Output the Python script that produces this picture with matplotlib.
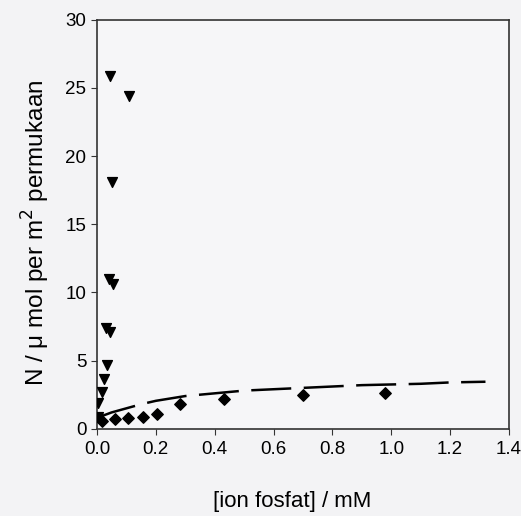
import numpy as np
import matplotlib.pyplot as plt

# segitiga (turun)
tri_x = [0.044, 0.109, 0.051, 0.040, 0.055, 0.030, 0.044, 0.034, 0.024, 0.017, 0.003, 0.003]
tri_y = [25.9, 24.4, 18.1, 11.0, 10.6, 7.4, 7.1, 4.7, 3.65, 2.7, 1.9, 0.9]

# titik (belah ketupat)
dia_x = [0.017, 0.06, 0.107, 0.157, 0.205, 0.283, 0.433, 0.70, 0.98]
dia_y = [0.6, 0.73, 0.8, 0.9, 1.1, 1.8, 2.2, 2.5, 2.6]

# kurva fit (garis putus-putus)
fit_x = [0, 0.05, 0.1, 0.15, 0.2, 0.3, 0.4, 0.5, 0.6, 0.7, 0.8, 0.9, 1.0, 1.1, 1.2, 1.32]
fit_y = [0.8, 1.2, 1.5, 1.8, 2.05, 2.4, 2.6, 2.8, 2.9, 3.0, 3.1, 3.2, 3.25, 3.3, 3.4, 3.45]

plt.rcParams['font.family'] = ['Liberation Sans', 'DejaVu Sans']

fig = plt.figure(figsize=(5.21, 5.16), dpi=100, facecolor='#f3f3f5')
ax = fig.add_axes([0.186, 0.169, 0.791, 0.793])
ax.set_facecolor('#f6f6f8')

ax.plot(fit_x, fit_y, color='black', lw=1.8, dashes=(16, 5))
ax.scatter(tri_x, tri_y, marker='v', s=50, color='black', zorder=3)
ax.scatter(dia_x, dia_y, marker='D', s=34, color='black', zorder=3)

ax.set_xlim(0, 1.4)
ax.set_ylim(0, 30)
ax.set_xticks(np.arange(0, 1.41, 0.2))
ax.set_xticklabels(['0.0', '0.2', '0.4', '0.6', '0.8', '1.0', '1.2', '1.4'])
ax.set_yticks([0, 5, 10, 15, 20, 25, 30])
ax.tick_params(direction='out', length=4, labelsize=13.5, color='#333333')
ax.tick_params(axis='x', pad=5)
for s in ax.spines.values():
    s.set_color('#333333')
    s.set_linewidth(1.2)

ax.set_xlabel('[ion fosfat] / mM', fontsize=16)
ax.set_ylabel('N / \u03bc mol per m$^{2}$ permukaan', fontsize=17.5)
ax.xaxis.set_label_coords(0.474, -0.152)
ax.yaxis.set_label_coords(-0.11, 0.478)

fig.savefig('out.png', dpi=100, facecolor=fig.get_facecolor())
